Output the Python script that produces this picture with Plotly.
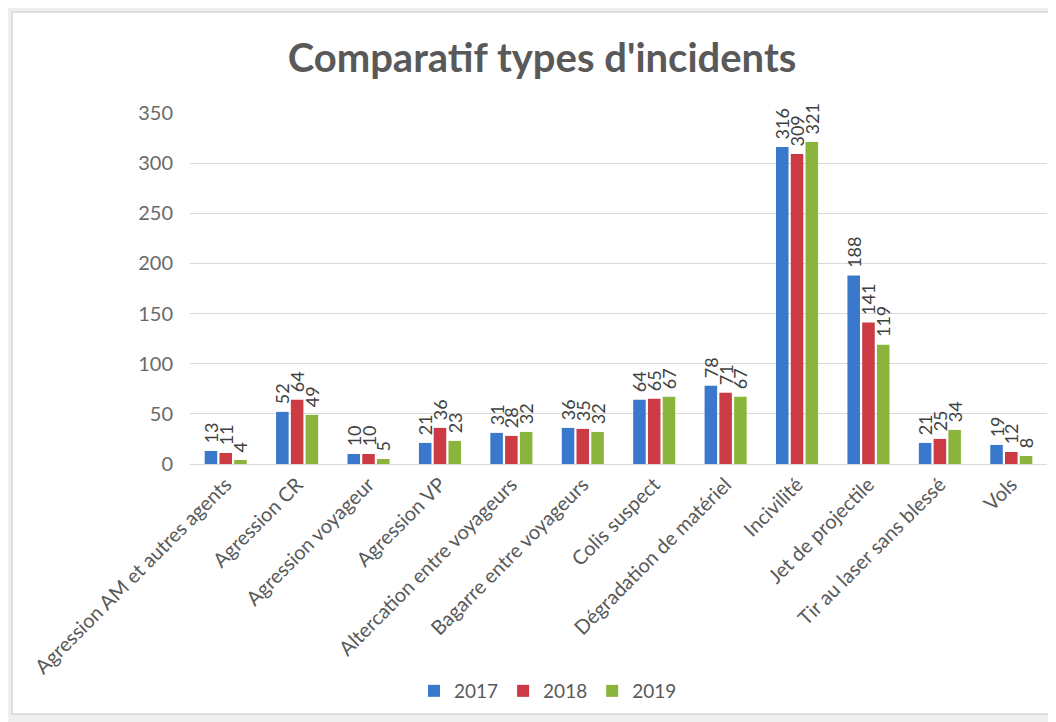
import plotly.graph_objects as go

categories = ["Agression AM et autres agents", "Agression CR", "Agression voyageur",
              "Agression VP", "Altercation entre voyageurs", "Bagarre entre voyageurs",
              "Colis suspect", "Dégradation de matériel", "Incivilité",
              "Jet de projectile", "Tir au laser sans blessé", "Vols"]
v2017 = [13, 52, 10, 21, 31, 36, 64, 78, 316, 188, 21, 19]
v2018 = [11, 64, 10, 36, 28, 35, 65, 71, 309, 141, 25, 12]
v2019 = [4, 49, 5, 23, 32, 32, 67, 67, 321, 119, 34, 8]
years = ["2017", "2018", "2019"]
colors = ["#3A78CC", "#CC3B44", "#8BB43C"]

FONT = "Lato"
OFF = 8  # page body margin of the html page
fig = go.Figure()
for name, vals, col in zip(years, [v2017, v2018, v2019], colors):
    fig.add_trace(go.Bar(
        x=categories, y=vals, name=name, marker=dict(color=col, line=dict(width=0)),
        text=["\u00a0" + str(v) for v in vals], textposition="outside", textangle=-90,
        constraintext="none", cliponaxis=False,
        textfont=dict(family=FONT, size=18, color="#404040"),
    ))

W, H = 1056 - OFF, 722 - OFF
L, R = 190 - OFF, 9
T, B = 113 - OFF, 258
pw, ph = W - L - R, H - T - B
fx0, fx1, fy0, fy1 = 12 - OFF, 1052 - OFF, 12 - OFF, 714 - OFF
fig.add_shape(type="rect", xref="paper", yref="paper",
              x0=(fx0 - L) / pw, x1=(fx1 - L) / pw,
              y0=(H - B - fy1) / ph, y1=(H - B - fy0) / ph,
              fillcolor="white", line=dict(color="#D6D6D6", width=1.5), layer="below")

fig.update_layout(
    width=W, height=H,
    margin=dict(l=L, r=R, t=T, b=B),
    paper_bgcolor="#EFEFEF", plot_bgcolor="white",
    barmode="group", bargap=0.38, bargroupgap=0.15,
    title=dict(text="<b>Comparatif types d'incidents</b>", x=(542 - OFF) / W, xref="container",
               xanchor="center", y=1 - (58 - OFF) / H, yanchor="middle",
               font=dict(family=FONT, size=40, color="#595959")),
    font=dict(family=FONT, color="#595959"),
    legend=dict(orientation="h", x=(548 - OFF) / W, xref="container", xanchor="center",
                y=1 - (691 - OFF) / H, yref="container", yanchor="middle",
                font=dict(family=FONT, size=19, color="#595959"),
                bgcolor="rgba(0,0,0,0)", itemwidth=30),
    xaxis=dict(tickangle=-45, tickfont=dict(family=FONT, size=20, color="#595959"),
               showline=True, linecolor="#D9D9D9", linewidth=1, ticks="",
               automargin=False),
    yaxis=dict(range=[0, 350], dtick=50, showgrid=True, gridcolor="#D9D9D9",
               zeroline=False, tickfont=dict(family=FONT, size=20, color="#6A6A6A"),
               ticks="", ticklabelstandoff=16, automargin=False),
)
fig.write_html("out.html")
